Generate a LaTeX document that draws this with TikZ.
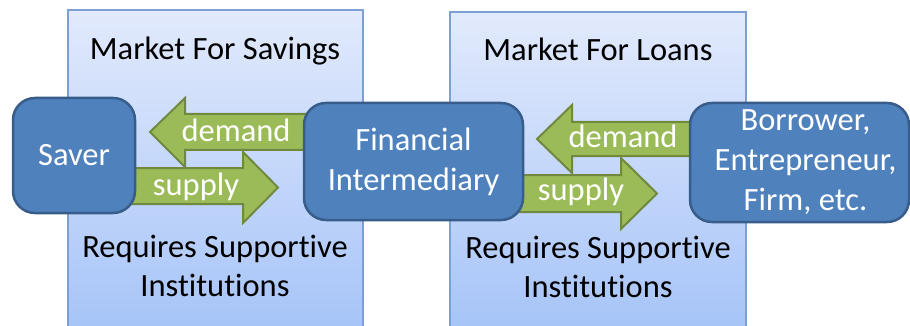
\documentclass[tikz,border=0pt]{standalone}
\usepackage{fontspec}
\setmainfont{Carlito}[Ligatures=NoCommon]
\usetikzlibrary{calc}
\definecolor{paneltop}{HTML}{E2EAFC}
\definecolor{panelbot}{HTML}{A6C4F8}
\definecolor{paneledge}{HTML}{7BA0D4}
\definecolor{boxfill}{HTML}{4F81BD}
\definecolor{boxedge}{HTML}{385D8A}
\definecolor{arrfill}{HTML}{9BBB59}
\definecolor{arredge}{HTML}{71893F}
\tikzset{
  panel/.style={draw=paneledge, line width=1.2pt, top color=paneltop, bottom color=panelbot},
  box/.style={draw=boxedge, line width=2.5pt, fill=boxfill, rounded corners=22pt, text=white, align=center, inner sep=0pt,
     font=\fontsize{32.5}{40}\selectfont},
  plain/.style={text=black, anchor=base, inner sep=0pt, font=\fontsize{32.5}{40}\selectfont},
  arrowshape/.style={draw=arredge, line width=2pt, fill=arrfill, line join=miter},
  arrowlabel/.style={text=white, anchor=base, inner sep=0pt, font=\fontsize{32.5}{40}\selectfont},
}
\begin{document}
\begin{tikzpicture}[x=1pt,y=-1pt]
\useasboundingbox (0,0) rectangle (910,326);
\fill[white] (0,0) rectangle (910,326);
% panels
\draw[panel] (68,330) -- (68,10) -- (363,10) -- (363,330);
\draw[panel] (450,330) -- (450,12) -- (746,12) -- (746,330);
\node[plain] (t1) at (215,60) {Market For Savings};
\node[plain] (t2) at (598,61) {Market For Loans};
\node[plain] (r1) at (215,257) {Requires Supportive};
\node[plain] (r1b) at (215,296) {Institutions};
\node[plain] (r2) at (598,258) {Requires Supportive};
\node[plain] (r2b) at (598,297) {Institutions};
% box centres
\coordinate (saverc) at (74,155.5);
\coordinate (finc) at (413.5,161.5);
\coordinate (borc) at (799.5,162.5);
% left demand arrow
\draw[arrowshape] (320,114) -- (185,114) -- (185,98) -- (150,132) -- (185,167) -- (185,150) -- (320,150) -- cycle;
% left supply arrow
\draw[arrowshape] (120,168) -- (243,168) -- (243,152) -- (278,187.5) -- (243,223) -- (243,204) -- (120,204) -- cycle;
% right demand arrow
\draw[arrowshape] (705,122) -- (572,122) -- (572,105) -- (537,139) -- (572,173) -- (572,156) -- (705,156) -- cycle;
% right supply arrow
\draw[arrowshape] (510,175) -- (621,175) -- (621,158) -- (657,193.5) -- (621,229) -- (621,212) -- (510,212) -- cycle;
\node[arrowlabel] (d1) at (236,142) {demand};
\node[arrowlabel] (s1) at (196,195) {supply};
\node[arrowlabel] (d2) at (623,148) {demand};
\node[arrowlabel] (s2) at (581,200) {supply};
% boxes
\node[box, minimum width=122pt, minimum height=115pt] (saver) at (saverc) {Saver};
\node[box, minimum width=219pt, minimum height=117pt] (fin) at (finc) {Financial\\Intermediary};
\node[box, minimum width=219pt, minimum height=119pt] (bor) at (borc) {\hspace*{12pt}Borrower,\\\hspace*{12pt}Entrepreneur,\\\hspace*{12pt}Firm, etc.};
\end{tikzpicture}
\end{document}
